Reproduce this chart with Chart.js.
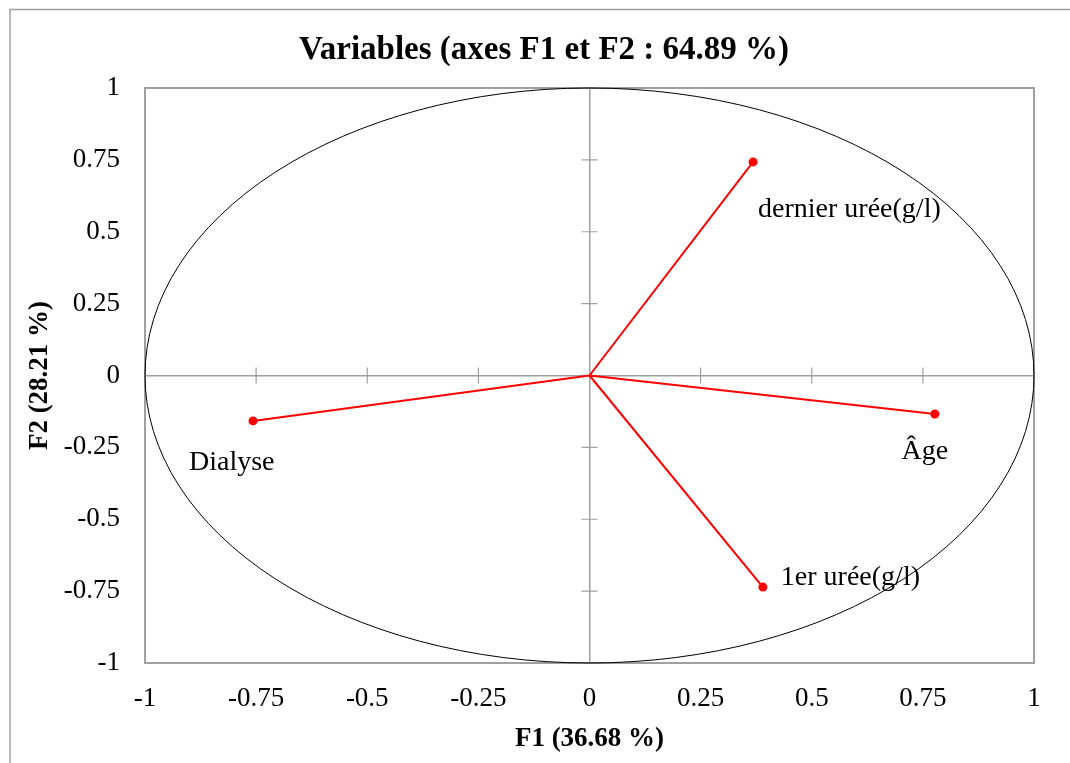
<!DOCTYPE html>
<html>
<head>
<meta charset="utf-8">
<script src="https://cdn.jsdelivr.net/npm/chart.js@4.4.1/dist/chart.umd.min.js"></script>
<style>
  html, body { margin: 0; padding: 0; background: #fff; }
  #wrap { position: absolute; left: 0; top: 0; width: 1070px; height: 763px; }
</style>
</head>
<body>
<div id="wrap"><canvas id="cercle"></canvas></div>
<script>
// données du cercle des corrélations
var titre = 'Variables (axes F1 et F2 : 64.89 %)';
var titreX = 'F1 (36.68 %)';
var titreY = 'F2 (28.21 %)';
var variables = ['dernier urée(g/l)', 'Âge', '1er urée(g/l)', 'Dialyse'];
var f1 = [0.368, 0.777, 0.390, -0.757];
var f2 = [0.743, -0.134, -0.736, -0.158];
var graduations = [-1, -0.75, -0.5, -0.25, 0, 0.25, 0.5, 0.75, 1];

// décalage des étiquettes (px) par rapport au point
var decal = [
    { dx: 5, dy: 48, align: 'left' },
    { dx: -10, dy: 38, align: 'center' },
    { dx: 18, dy: -9, align: 'left' },
    { dx: -64, dy: 42, align: 'left' }
];

var gris = '#a0a0a0';
var police = '"Liberation Serif", "Times New Roman", serif';

var datasets = [];
for (var i = 0; i < variables.length; i++) {
    datasets.push({
        label: variables[i],
        data: [{ x: 0, y: 0 }, { x: f1[i], y: f2[i] }],
        showLine: true,
        borderColor: '#ff0000',
        backgroundColor: '#ff0000',
        borderWidth: 2,
        pointRadius: [0, 4.5],
        pointHoverRadius: [0, 4.5],
        pointBorderWidth: 0
    });
}

var decor = {
    id: 'decor',
    beforeDraw: function(chart) {
        var ctx = chart.ctx;
        ctx.save();
        ctx.strokeStyle = gris;
        ctx.lineWidth = 1.5;
        ctx.beginPath();
        ctx.moveTo(10, 770);
        ctx.lineTo(10, 9.5);
        ctx.lineTo(1075, 9.5);
        ctx.stroke();
        ctx.fillStyle = '#000';
        ctx.font = 'bold 33px ' + police;
        ctx.textAlign = 'center';
        ctx.textBaseline = 'middle';
        ctx.fillText(titre, 544, 50);
        ctx.restore();
    },
    beforeDatasetsDraw: function(chart) {
        var ctx = chart.ctx, a = chart.chartArea;
        var sx = chart.scales.x, sy = chart.scales.y;
        var x0 = sx.getPixelForValue(0), y0 = sy.getPixelForValue(0);
        ctx.save();
        // cadre
        ctx.strokeStyle = gris;
        ctx.lineWidth = 2;
        ctx.strokeRect(a.left, a.top, a.right - a.left, a.bottom - a.top);
        // graduations sur les axes zéro
        ctx.lineWidth = 1.2;
        ctx.beginPath();
        for (var i = 0; i < graduations.length; i++) {
            var g = graduations[i];
            if (g === 0 || Math.abs(g) === 1) continue;
            var px = sx.getPixelForValue(g), py = sy.getPixelForValue(g);
            ctx.moveTo(px, y0 - 8); ctx.lineTo(px, y0 + 8);
            ctx.moveTo(x0 - 8, py); ctx.lineTo(x0 + 8, py);
        }
        ctx.stroke();
        // cercle unité
        ctx.strokeStyle = '#000';
        ctx.lineWidth = 1;
        ctx.beginPath();
        ctx.ellipse(x0, y0, sx.getPixelForValue(1) - x0, y0 - sy.getPixelForValue(1), 0, 0, Math.PI * 2);
        ctx.stroke();
        ctx.restore();
    },
    afterDatasetsDraw: function(chart) {
        var ctx = chart.ctx;
        var sx = chart.scales.x, sy = chart.scales.y;
        ctx.save();
        ctx.fillStyle = '#000';
        ctx.font = '28px ' + police;
        ctx.textBaseline = 'middle';
        for (var i = 0; i < variables.length; i++) {
            ctx.textAlign = decal[i].align;
            ctx.fillText(variables[i],
                sx.getPixelForValue(f1[i]) + decal[i].dx,
                sy.getPixelForValue(f2[i]) + decal[i].dy);
        }
        ctx.restore();
    }
};

function grille(ctx) {
    return ctx.tick && ctx.tick.value === 0 ? gris : 'rgba(0,0,0,0)';
}

function etiquette(v) {
    return String(Number(v.toFixed(2)));
}

new Chart(document.getElementById('cercle'), {
    type: 'scatter',
    data: { datasets: datasets },
    plugins: [decor],
    options: {
        responsive: true,
        maintainAspectRatio: false,
        animation: false,
        events: [],
        layout: { padding: { top: 88, right: 36, left: 0, bottom: 0 } },
        plugins: {
            legend: { display: false },
            tooltip: { enabled: false },
            title: { display: false }
        },
        scales: {
            x: {
                type: 'linear', min: -1, max: 1,
                afterFit: function(s) { s.height = 100; },
                afterBuildTicks: function(s) { s.ticks = graduations.map(function(v) { return { value: v }; }); },
                grid: { color: grille, lineWidth: 1.5, drawTicks: false },
                border: { display: false },
                ticks: { padding: 20, color: '#000', font: { family: police, size: 27 }, callback: etiquette, maxRotation: 0 },
                title: { display: true, text: titreX, color: '#000', font: { family: police, size: 27, weight: 'bold' }, padding: { top: 0, bottom: 8 } }
            },
            y: {
                type: 'linear', min: -1, max: 1,
                afterFit: function(s) { s.width = 145; },
                afterBuildTicks: function(s) { s.ticks = graduations.map(function(v) { return { value: v }; }); },
                grid: { color: grille, lineWidth: 1.5, drawTicks: false },
                border: { display: false },
                ticks: { padding: 25, color: '#000', font: { family: police, size: 27 }, callback: etiquette },
                title: { display: true, text: titreY, color: '#000', font: { family: police, size: 27, weight: 'bold' }, padding: { top: 24, bottom: 0 } }
            }
        }
    }
});
</script>
</body>
</html>
